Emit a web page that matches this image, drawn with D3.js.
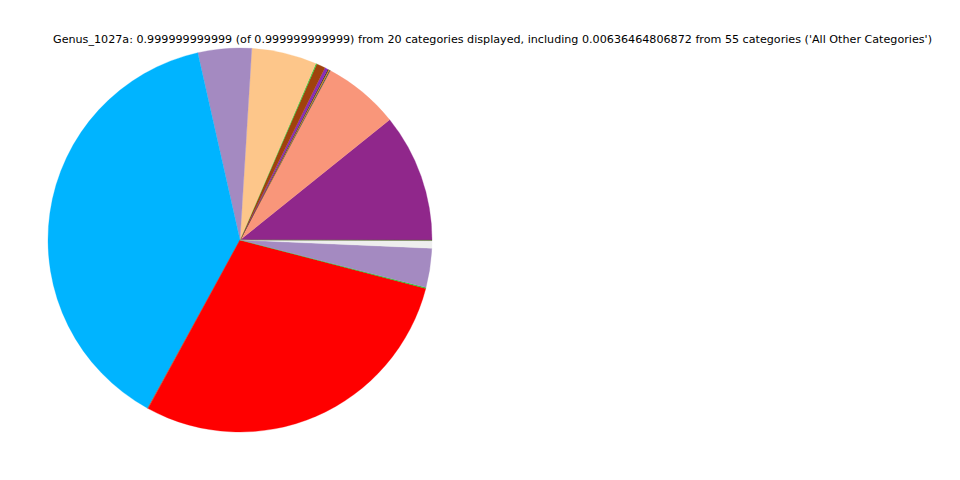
<!DOCTYPE html>
<html>
<head>
<meta charset="utf-8">
<script src="https://cdn.jsdelivr.net/npm/d3@7/dist/d3.min.js"></script>
<style>
html,body{margin:0;padding:0;background:#fff;}
svg{display:block;}
</style>
</head>
<body>
<svg id="chart" width="960" height="480"></svg>
<script>
const title = "Genus_1027a: 0.999999999999 (of 0.999999999999) from 20 categories displayed, including 0.00636464806872 from 55 categories ('All Other Categories')";
const categories = ["Genus 1","Genus 2","Genus 3","Genus 4","Genus 5","Genus 6","Genus 7","Genus 8","Genus 9","Genus 10","Genus 11","Genus 12","Genus 13","Genus 14","Genus 15","All Other Categories","Genus 17"];
const values = [0.1075,0.0642,0.0008,0.0008,0.0008,0.0025,0.0075,0.0008,0.0547,0.0450,0.3837,0.0006,0.2881,0.0008,0.0328,0.0064,0.0005];
const colors = ["#90278b","#f9967a","#2f4f4f","#ff8c00","#333333","#8b2bb9","#a0420d","#32cd32","#fdc68a","#a48ac1","#00b4ff","#8b6f47","#ff0000","#22cc22","#a48ac1","#eeeeee","#556b2f"];

const svg = d3.select("#chart");
const cx = 240, cy = 240, r = 192;

svg.append("text")
  .attr("x", 492.5).attr("y", 43)
  .attr("text-anchor", "middle")
  .attr("font-family", "DejaVu Sans")
  .attr("font-size", "11px")
  .attr("textLength", 879)
  .attr("lengthAdjust", "spacingAndGlyphs")
  .attr("fill", "#000")
  .text(title);

const data = categories.map((c, i) => ({name: c, value: values[i], color: colors[i]}));
const pie = d3.pie().value(d => d.value).sort(null)
  .startAngle(Math.PI / 2).endAngle(Math.PI / 2 - 2 * Math.PI);
const arc = d3.arc().innerRadius(0).outerRadius(r);

svg.append("g").attr("transform", `translate(${cx},${cy})`)
  .selectAll("path").data(pie(data)).join("path")
  .attr("d", arc)
  .attr("fill", d => d.data.color)
  .attr("stroke", d => d.data.color)
  .attr("stroke-width", 0.3);
</script>
</body>
</html>
